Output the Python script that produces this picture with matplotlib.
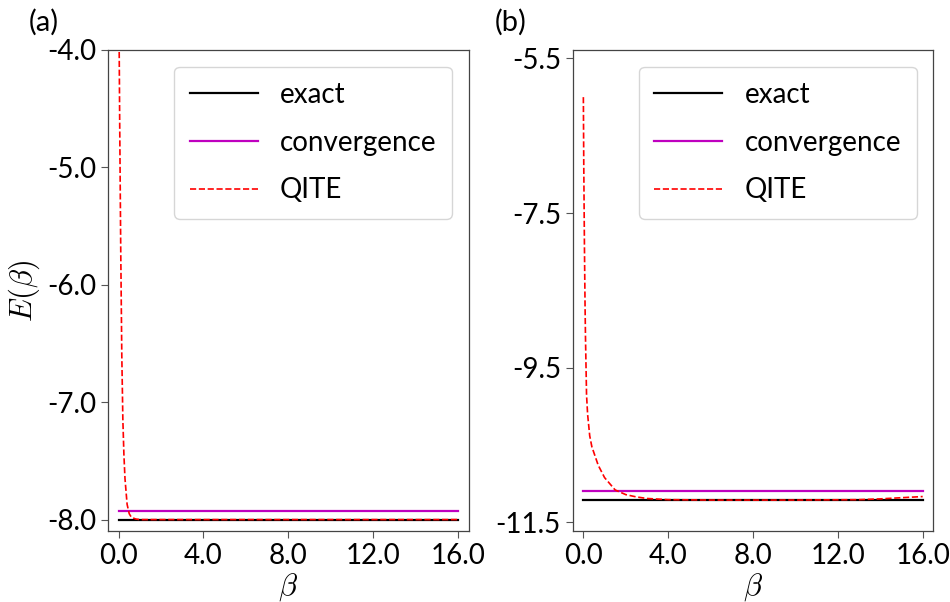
import numpy as np
import matplotlib.pyplot as plt

plt.rcParams['font.family'] = ['Lato', 'DejaVu Sans']
plt.rcParams['mathtext.fontset'] = 'cm'

# panel (a): small system
beta_a = [0.0, 0.05, 0.1, 0.15, 0.2, 0.25, 0.3, 0.4, 0.5, 0.6, 0.8, 1.0, 2.0, 4.0, 8.0, 12.0, 16.0]
qite_a = [-3.3, -4.6, -5.7, -6.6, -7.15, -7.45, -7.65, -7.87, -7.95, -7.98, -7.995, -8.0,
          -8.0, -8.0, -8.0, -8.0, -8.0]
exact_a = -8.0
conv_a = -7.923

# panel (b): larger system
beta_b = [0.0, 0.02, 0.05, 0.08, 0.1, 0.15, 0.2, 0.3, 0.4, 0.5, 0.7, 1.0, 1.5, 2.0, 2.5,
          3.0, 4.0, 6.0, 10.0, 13.0, 14.0, 15.0, 16.0]
qite_b = [-6.0, -6.9, -7.9, -8.7, -9.1, -9.85, -10.1, -10.38, -10.52, -10.6, -10.76, -10.92,
          -11.08, -11.14, -11.17, -11.19, -11.205, -11.21, -11.21, -11.205, -11.195, -11.18, -11.165]
exact_b = -11.21
conv_b = -11.09

xticks = [0.0, 4.0, 8.0, 12.0, 16.0]
yticks_a = [-4.0, -5.0, -6.0, -7.0, -8.0]
yticks_b = [-5.5, -7.5, -9.5, -11.5]

fig = plt.figure(figsize=(9.5, 6.02), dpi=100)
ax1 = fig.add_axes([0.1137, 0.118, 0.3795, 0.799])
ax2 = fig.add_axes([0.6029, 0.118, 0.3795, 0.799])

panels = [
    (ax1, beta_a, qite_a, exact_a, conv_a, yticks_a, (-8.097, -4.0), '(a)', -0.22),
    (ax2, beta_b, qite_b, exact_b, conv_b, yticks_b, (-11.61, -5.39), '(b)', -0.215),
]

for ax, b, q, ex, cv, yt, ylim, tag, tx in panels:
    ax.plot([0, 16], [ex, ex], color='black', lw=1.6, label='exact')
    ax.plot([0, 16], [cv, cv], color='m', lw=1.6, label='convergence')
    ax.plot(b, q, color='red', ls='--', lw=1.2, label='QITE')
    ax.set_xlim(-0.5, 16.5)
    ax.set_ylim(*ylim)
    ax.set_xticks(xticks)
    ax.set_xticklabels(['%.1f' % v for v in xticks])
    ax.set_yticks(yt)
    ax.set_yticklabels(['%.1f' % v for v in yt])
    ax.tick_params(labelsize=20, length=5, width=0.8, color='#555555')
    for sp in ax.spines.values():
        sp.set_color('#444444')
        sp.set_linewidth(0.9)
    ax.set_xlabel(r'$\beta$', fontsize=22, labelpad=2)
    ax.legend(loc='upper right', fontsize=20, handlelength=2.45, borderpad=0.55,
              labelspacing=0.78, handletextpad=0.8, borderaxespad=0.6)
    ax.text(tx, 1.03, tag, transform=ax.transAxes, fontsize=21, ha='left', va='bottom')

ax1.set_ylabel(r'$E(\beta)$', fontsize=22, labelpad=4)

fig.savefig('out.png', dpi=100)
